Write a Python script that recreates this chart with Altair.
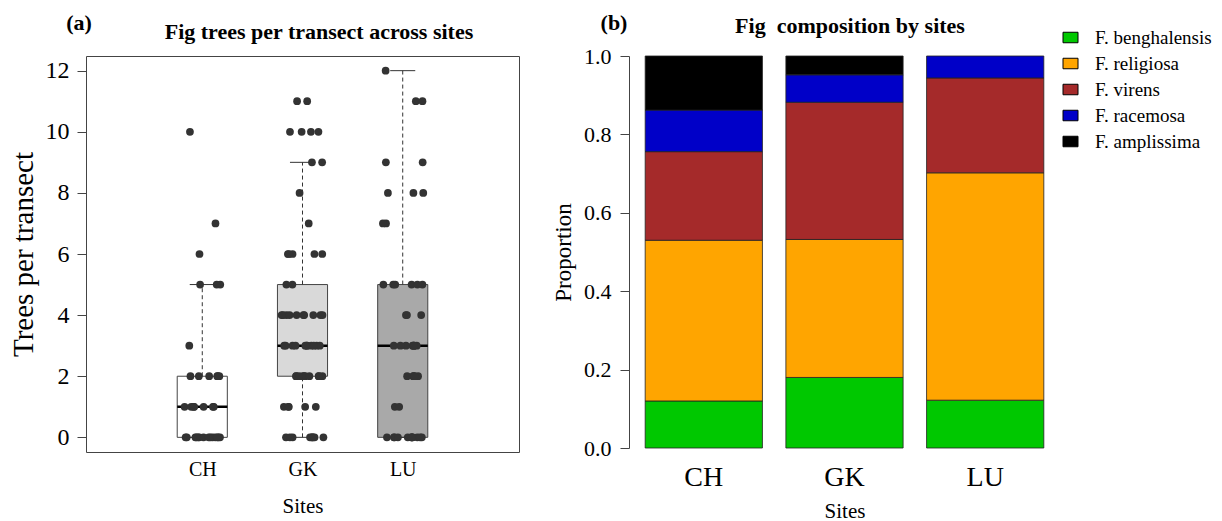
import altair as alt
import pandas as pd
import numpy as np
import math

FONT = "Liberation Serif"

# ---------------- data ----------------
sites = ["CH", "GK", "LU"]
tree_values = list(range(13))          # trees per transect 0..12
ch_freq = [14, 7, 6, 1, 0, 3, 1, 1, 0, 0, 1, 0, 0]
gk_freq = [9, 5, 10, 11, 10, 2, 5, 1, 1, 2, 4, 2, 0]
lu_freq = [12, 2, 5, 8, 3, 6, 0, 2, 3, 2, 0, 2, 1]
box_fills = ["#FFFFFF", "#D9D9D9", "#A9A9A9"]

species = ["F. benghalensis", "F. religiosa", "F. virens", "F. racemosa", "F. amplissima"]
species_colors = ["#00C800", "#FFA500", "#A52A2A", "#0000C8", "#000000"]
ch_prop = [0.12, 0.41, 0.226, 0.106, 0.138]
gk_prop = [0.18, 0.352, 0.35, 0.07, 0.048]
lu_prop = [0.122, 0.58, 0.242, 0.056, 0.0]

title_a = "Fig trees per transect across sites"
title_b = "Fig\u00a0 composition by sites"

# ---------------- tables ----------------
pts = []
idx = 0
for k, (s, freq) in enumerate(zip(sites, [ch_freq, gk_freq, lu_freq])):
    for v, f in zip(tree_values, freq):
        for _ in range(f):
            pts.append({"site": s, "pos": k + 1, "value": v, "i": idx})
            idx += 1
pts_df = pd.DataFrame(pts)


def fivenum(x):
    x = np.sort(np.asarray(x, dtype=float))
    n = len(x)
    n4 = math.floor((n + 3) / 2) / 2
    d = [1, n4, (n + 1) / 2, n + 1 - n4, n]
    return [0.5 * (x[math.floor(di) - 1] + x[math.ceil(di) - 1]) for di in d]


boxes = []
for k, s in enumerate(sites):
    vals = pts_df.loc[pts_df.site == s, "value"].to_numpy()
    f = fivenum(vals)
    q1, med, q3 = f[1], f[2], f[3]
    iqr = q3 - q1
    lo = vals[vals >= q1 - 1.5 * iqr].min()
    hi = vals[vals <= q3 + 1.5 * iqr].max()
    boxes.append({"site": s, "pos": k + 1, "q1": q1, "med": med, "q3": q3,
                  "lo": float(lo), "hi": float(hi)})
box_df = pd.DataFrame(boxes)

prop_rows = []
for s, props in zip(sites, [ch_prop, gk_prop, lu_prop]):
    for k, (sp, p) in enumerate(zip(species, props)):
        prop_rows.append({"site": s, "species": sp, "prop": p, "ord": k})
prop_df = pd.DataFrame(prop_rows)


def text_layer(txt, x, y, size=22, bold=True):
    return alt.Chart(pd.DataFrame({"t": [txt]})).mark_text(
        font=FONT, fontSize=size, fontWeight="bold" if bold else "normal",
        baseline="middle", align="center", color="black"
    ).encode(x=alt.value(x), y=alt.value(y), text="t:N")


# ---------------- left panel ----------------
W1, H1 = 433, 396
xs = alt.Scale(domain=[-0.16, 4.16], nice=False, zero=False)
ys = alt.Scale(domain=[-0.48, 12.48], nice=False, zero=False)

xaxis = alt.Axis(values=[1, 2, 3], labelExpr="['', 'CH', 'GK', 'LU'][datum.value]",
                 title="Sites", grid=False, ticks=False, domain=False,
                 labelFont=FONT, titleFont=FONT,
                 labelFontSize=20, labelPadding=7, titleFontSize=21, titlePadding=16)
yaxis = alt.Axis(values=list(range(0, 13, 2)), title="Trees per transect", grid=False,
                 domain=False, tickSize=9, labelPadding=8, labelFontSize=24,
                 labelFont=FONT, titleFont=FONT,
                 titleFontSize=29, titlePadding=7)

base = alt.Chart(box_df).transform_calculate(
    xl="datum.pos - 0.25", xr="datum.pos + 0.25",
    cl="datum.pos - 0.125", cr="datum.pos + 0.125")

box = base.mark_bar(stroke="#444444", strokeWidth=1).encode(
    x=alt.X("xl:Q", scale=xs, axis=xaxis), x2="xr:Q",
    y=alt.Y("q1:Q", scale=ys, axis=yaxis), y2="q3:Q",
    color=alt.Color("site:N", scale=alt.Scale(domain=sites, range=box_fills), legend=None))
wh_up = base.mark_rule(color="#333333", strokeDash=[4, 3], strokeWidth=1).encode(
    x="pos:Q", y="q3:Q", y2="hi:Q")
wh_lo = base.mark_rule(color="#333333", strokeDash=[4, 3], strokeWidth=1).encode(
    x="pos:Q", y="lo:Q", y2="q1:Q")
cap_hi = base.mark_rule(color="#333333", strokeWidth=1).encode(x="cl:Q", x2="cr:Q", y="hi:Q")
cap_lo = base.mark_rule(color="#333333", strokeWidth=1).encode(x="cl:Q", x2="cr:Q", y="lo:Q")
median = base.mark_rule(color="black", strokeWidth=2.5).encode(x="xl:Q", x2="xr:Q", y="med:Q")

points = alt.Chart(pts_df).transform_calculate(
    jx="datum.pos + (abs(sin(datum.i * 12.9898 + 1.7) * 43758.5453) % 1 - 0.5) * 0.42"
).mark_circle(size=60, color="#333333", opacity=1).encode(x="jx:Q", y="value:Q")

left = alt.layer(
    box, wh_up, wh_lo, cap_hi, cap_lo, median, points,
    text_layer("(a)", -7, -33),
    text_layer(title_a, 233, -24.5),
).properties(
    width=W1, height=H1,
    view=alt.ViewBackground(stroke="#444444", strokeWidth=1))

# ---------------- right panel ----------------
W2, H2 = 431, 392
bars = alt.Chart(prop_df).transform_filter("datum.prop > 0").mark_bar(
    stroke="#222222", strokeWidth=0.8).encode(
    x=alt.X("site:N", sort=sites, scale=alt.Scale(paddingInner=0.1667, paddingOuter=0.115),
            axis=alt.Axis(title="Sites", labelAngle=0, ticks=False, domain=False,
                          labelFont=FONT, titleFont=FONT,
                          labelFontSize=28, labelPadding=15, titleFontSize=21, titlePadding=9)),
    y=alt.Y("prop:Q", stack="zero", scale=alt.Scale(domain=[0, 1], nice=False),
            axis=alt.Axis(values=[0, 0.2, 0.4, 0.6, 0.8, 1.0], format=".1f", title="Proportion",
                          grid=False, tickSize=9, labelPadding=9, labelFontSize=22,
                          labelFont=FONT, titleFont=FONT,
                          titleFontSize=23, titlePadding=8)),
    fill=alt.Fill("species:N", scale=alt.Scale(domain=species, range=species_colors),
                  legend=alt.Legend(title=None, orient="none", legendX=432, legendY=-28,
                                    symbolType="M-1,-0.7L1,-0.7L1,0.7L-1,0.7Z", symbolSize=225,
                                    symbolStrokeColor="black", symbolStrokeWidth=1,
                                    labelFontSize=19, labelFont=FONT, labelColor="black",
                                    labelOffset=15, rowPadding=6, padding=0)),
    order=alt.Order("ord:Q", sort="ascending"),
)

right = alt.layer(
    bars,
    text_layer("(b)", -15, -33),
    text_layer(title_b, 221, -30),
).properties(width=W2, height=H2)

chart = alt.hconcat(left, right, spacing=32).resolve_scale(
    color="independent", fill="independent"
).properties(
    padding={"left": 0, "top": 3, "right": 0, "bottom": 0}
).configure_view(stroke=None).configure_axis(
    labelFont=FONT, titleFont=FONT, labelColor="black", titleColor="black",
    titleFontWeight="normal", domainColor="#444444", tickColor="#444444"
)

chart.save("out.html", embed_options={"renderer": "svg", "actions": False})
